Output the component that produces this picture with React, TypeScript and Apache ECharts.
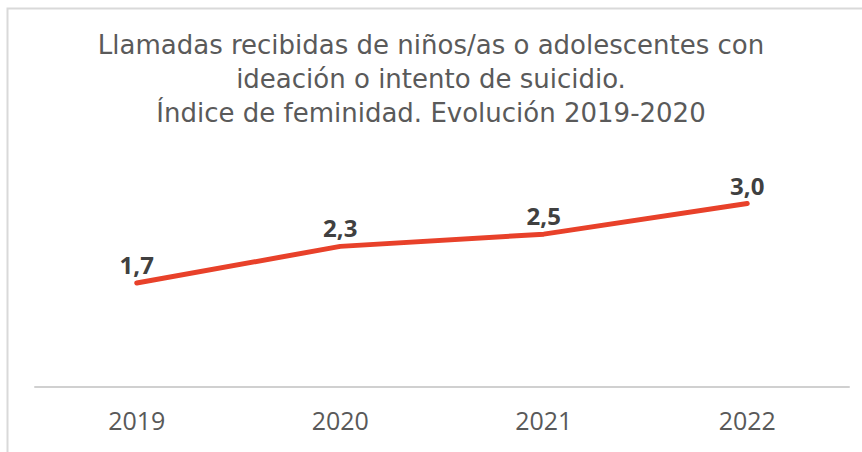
import React, { useEffect, useRef } from "react";
import * as echarts from "echarts";

const categories = ["2019", "2020", "2021", "2022"];
const values = [1.7, 2.3, 2.5, 3.0];
const titleLines = [
  "Llamadas recibidas de niños/as o adolescentes con",
  "ideación o intento de suicidio.",
  "Índice de feminidad. Evolución 2019-2020",
];
const titleTops = [32, 66, 100];

export default function App() {
  const ref = useRef<HTMLDivElement>(null);
  useEffect(() => {
    const chart = echarts.init(ref.current!, null, { renderer: "svg" });
    chart.setOption({
      animation: false,
      backgroundColor: "#ffffff",
      title: titleLines.map((t, i) => ({
        text: t,
        left: "center",
        top: titleTops[i],
        padding: 0,
        textStyle: {
          fontFamily: "'DejaVu Sans', sans-serif",
          fontSize: 26,
          fontWeight: "normal",
          color: "#5a5a5a",
        },
      })),
      graphic: [
        {
          type: "rect",
          shape: { x: 7.5, y: 8.5, width: 900, height: 500 },
          style: { fill: "none", stroke: "#d9d9d9", lineWidth: 2 },
          silent: true,
        },
      ],
      grid: { left: 35, right: 13, top: 173, bottom: 65 },
      xAxis: {
        type: "category",
        data: categories,
        boundaryGap: true,
        axisLine: { lineStyle: { color: "#d0d0d0", width: 2 } },
        axisTick: { show: false },
        axisLabel: {
          margin: 20,
          fontSize: 25,
          color: "#595959",
          fontFamily: "'Open Sans', sans-serif",
        },
      },
      yAxis: {
        type: "value",
        min: 0,
        max: 3.5,
        show: false,
        splitLine: { show: false },
      },
      series: [
        {
          type: "line",
          data: values,
          symbol: "circle",
          symbolSize: 1,
          showSymbol: true,
          itemStyle: { color: "rgba(232,65,42,0)" },
          lineStyle: { color: "#e8412a", width: 5, cap: "round" },
          label: {
            show: true,
            position: "top",
            distance: 6,
            fontSize: 24,
            fontWeight: "bold",
            color: "#404040",
            fontFamily: "'Open Sans', sans-serif",
            formatter: (p: any) => Number(p.value).toFixed(1).replace(".", ","),
          },
        },
      ],
    });
    return () => chart.dispose();
  }, []);
  return <div ref={ref} style={{ width: 862, height: 452, position: "absolute", left: 0, top: 0 }} />;
}
